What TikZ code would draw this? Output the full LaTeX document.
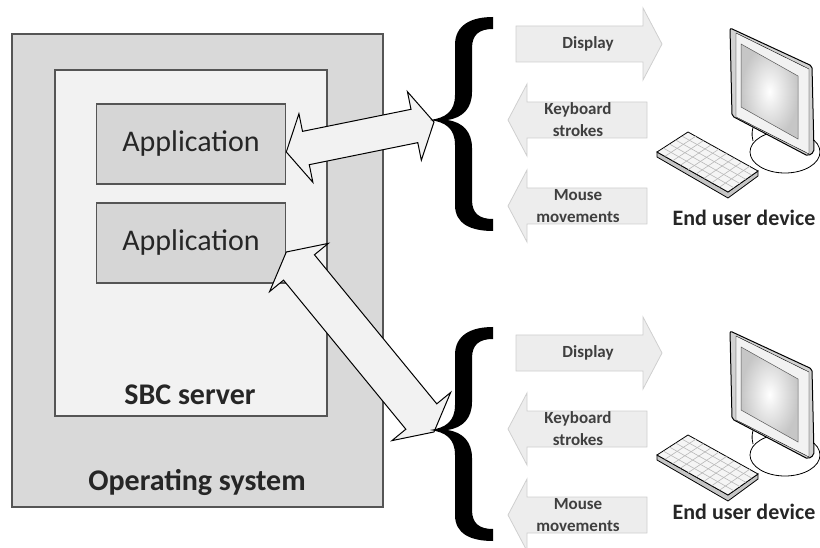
\documentclass[tikz,border=0pt]{standalone}
\usepackage{fontspec}
\setmainfont{Carlito}
\usetikzlibrary{calc}

\definecolor{osgray}{HTML}{D9D9D9}
\definecolor{srvgray}{HTML}{F2F2F2}
\definecolor{appgray}{HTML}{D6D6D6}
\definecolor{boxline}{HTML}{555555}
\definecolor{flowfill}{HTML}{EDEDED}
\definecolor{flowline}{HTML}{CFCFCF}
\definecolor{flowtext}{HTML}{3F3F3F}

\tikzset{
  osbox/.style={draw=boxline, fill=osgray, line width=1.6pt},
  srvbox/.style={draw=boxline, fill=srvgray, line width=1.6pt},
  appbox/.style={draw=boxline, fill=appgray, line width=1.6pt,
    minimum width=189pt, minimum height=80pt, inner sep=0pt,
    font=\fontsize{30}{32}\selectfont, text=black!85},
  biglabel/.style={font=\bfseries\fontsize{30}{32}\selectfont, text=black!85},
  flow/.style={draw=flowline, fill=flowfill, line width=0.8pt},
  flowlabel/.style={font=\bfseries\fontsize{17}{22}\selectfont, text=flowtext, align=center},
  devlabel/.style={font=\bfseries\fontsize{22}{24}\selectfont, text=black!85},
  twoway/.style={draw=black, fill=srvgray, line width=1pt, line join=miter},
}

% block arrow with a head at both ends, from #1 to #2, shaft half width #3
\newcommand{\twowayarrow}[3]{%
  \path let \p1=($(#2)-(#1)$) in \pgfextra{%
    \pgfmathsetmacro\tmpang{atan2(\y1,\x1)}%
    \pgfmathsetmacro\tmplen{veclen(\x1,\y1)}%
    \xdef\arrowang{\tmpang}\xdef\arrowlen{\tmplen}};
  \draw[twoway, shift={(#1)}, rotate=\arrowang] (0,0)
    -- (20,#3+18) -- (20,#3) -- (\arrowlen-20,#3) -- (\arrowlen-20,#3+18)
    -- (\arrowlen,0)
    -- (\arrowlen-20,-#3-18) -- (\arrowlen-20,-#3) -- (20,-#3) -- (20,-#3-18)
    -- cycle;}

% flat arrow towards the device: name, centre y, label
\newcommand{\outflow}[3]{%
  \draw[flow] (516,#2-18) -- (643,#2-18) -- (643,#2-36) -- (662,#2)
    -- (643,#2+36) -- (643,#2+18) -- (516,#2+18) -- cycle;
  \node[flowlabel] (#1) at (588,#2) {#3};}

% flat arrow back to the server: name, centre y, label
\newcommand{\inflow}[3]{%
  \draw[flow] (647,#2-18) -- (527,#2-18) -- (527,#2-36) -- (508,#2)
    -- (527,#2+36) -- (527,#2+18) -- (647,#2+18) -- cycle;
  \node[flowlabel] (#1) at (578,#2) {#3};}

% curly brace, tip at (433,#1)
\newcommand{\curly}[1]{%
  \fill[black, shift={(433,#1)}] (60,-103) .. controls (38,-103) and (22,-95) .. (22,-75)
    -- (22,-25) .. controls (22,-8) and (12,-2) .. (-3,0)
    .. controls (12,2) and (22,8) .. (22,25) -- (22,85)
    .. controls (22,104) and (38,111) .. (60,111) -- (60,99)
    .. controls (47,99) and (39,94) .. (39,80) -- (39,28)
    .. controls (39,12) and (30,2) .. (14,0)
    .. controls (30,-2) and (39,-12) .. (39,-28) -- (39,-72)
    .. controls (39,-86) and (47,-91) .. (60,-91) -- cycle;}

% monitor and keyboard, moved down by #1
\newcommand{\userdevice}[1]{%
  \begin{scope}[shift={(0,#1)}]
    % stand
    \draw[line width=0.8pt, fill=white] (785,152) ellipse [x radius=35, y radius=21];
    \draw[line width=0.8pt] (758,117) .. controls (752,126) and (751,134) .. (753,141);
    % housing, bezel, screen
    \draw[fill=gray!35, line width=1pt, rounded corners=2pt]
      (730,28) -- (812,66) -- (814,152) -- (808,156) -- (732,116) -- cycle;
    \draw[fill=gray!10, line width=0.4pt] (736,33) -- (809,69) -- (809,154) -- (736,117) -- cycle;
    \shade[inner color=white, outer color=gray!45, draw=gray!70!black, line width=0.5pt]
      (741,44) -- (798,76) -- (798,139) -- (741,107) -- cycle;
    % keyboard
    \coordinate (ka) at (657,152);
    \coordinate (kb) at (688,132);
    \coordinate (kc) at (758,171);
    \coordinate (kd) at (728,192);
    \draw[fill=gray!45, line width=0.8pt] (ka) -- (kd) -- (kc) -- ($(kc)+(0,5)$)
      -- ($(kd)+(0,6)$) -- ($(ka)+(0,5)$) -- cycle;
    \draw[fill=gray!8, line width=0.8pt] (ka) -- (kb) -- (kc) -- (kd) -- cycle;
    \foreach \t in {0.2,0.4,0.6,0.8}
      \draw[gray!55, line width=0.6pt] ($(ka)!\t!(kb)$) -- ($(kd)!\t!(kc)$);
    \foreach \t in {0.11,0.22,...,0.9}
      \draw[gray!55, line width=0.6pt] ($(ka)!\t!(kd)$) -- ($(kb)!\t!(kc)$);
  \end{scope}}

\begin{document}
\begin{tikzpicture}[x=1pt, y=-1pt]
\useasboundingbox (0,0) rectangle (820,548);

% host side
\draw[osbox] (12,34) rectangle (383,507);
\draw[srvbox] (55,70) rectangle (327,416);
\node[appbox] (app1) at (191,144) {Application};
\node[appbox] (app2) at (191,243) {Application};
\node[biglabel] (server) at (190,395) {SBC server};
\node[biglabel] (os) at (197,482) {Operating system};

% traffic to and from the first device
\outflow{disp1}{44}{Display}
\inflow{keys1}{120}{Keyboard\\strokes}
\inflow{mouse1}{206}{Mouse\\movements}

% traffic to and from the second device
\outflow{disp2}{353}{Display}
\inflow{keys2}{429}{Keyboard\\strokes}
\inflow{mouse2}{515}{Mouse\\movements}

% devices
\userdevice{0}
\userdevice{303}
\node[devlabel] (dev1) at (744,218) {End user device};
\node[devlabel] (dev2) at (744,512) {End user device};

% sessions
\coordinate (hub1) at (434,122);
\coordinate (hub2) at (434,432);
\coordinate (out1) at ($(app1.east)+(0,8)$);
\coordinate (out2) at ($(app2.east)+(0,9)$);
\twowayarrow{out1}{hub1}{17}
\twowayarrow{out2}{hub2}{20}

\curly{120}
\curly{430}
\end{tikzpicture}
\end{document}
